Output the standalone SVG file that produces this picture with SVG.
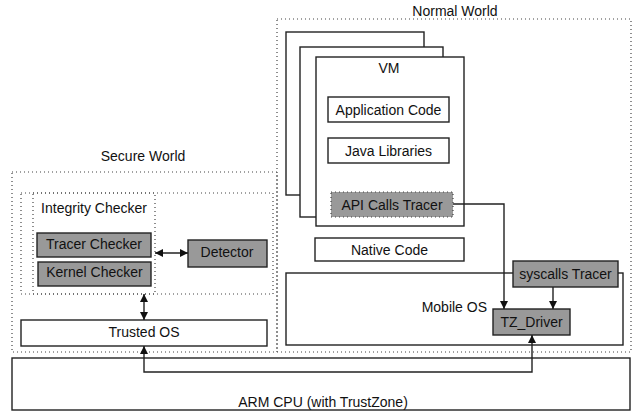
<svg xmlns="http://www.w3.org/2000/svg" width="639" height="415" viewBox="0 0 639 415">
<style>
text{font-family:"Liberation Sans",Arial,sans-serif;font-size:14px;fill:#111;text-anchor:middle;dominant-baseline:central}
.b{fill:#fff;stroke:#222;stroke-width:1.4}
.g{fill:#999;stroke:#222;stroke-width:1.4}
.d{fill:none;stroke:#444;stroke-width:1.2;stroke-dasharray:1 3}
.gd{fill:#999;stroke:#444;stroke-width:1.2;stroke-dasharray:1 3}
.c{fill:none;stroke:#222;stroke-width:1.4}
</style>
<defs>
<marker id="ah" viewBox="0 0 10 10" refX="10" refY="5" markerWidth="8" markerHeight="8" markerUnits="userSpaceOnUse" orient="auto-start-reverse"><path d="M0,0 L10,5 L0,10 z" fill="#111"/></marker>
</defs>
<rect x="0" y="0" width="639" height="415" fill="#fff"/>
<g id="arm-cpu"><rect class="b" x="12" y="358" width="618" height="52"/><text x="323" y="402">ARM CPU (with TrustZone)</text></g>
<g id="secure-world"><rect class="d" x="12" y="172" width="265" height="180"/><text x="143" y="156">Secure World</text></g>
<g id="normal-world"><rect class="d" x="277" y="19" width="354" height="333"/><text x="455" y="11">Normal World</text></g>
<g id="checker-area"><rect class="d" x="21" y="193" width="252" height="101"/></g>
<g id="integrity-checker"><rect class="d" x="33" y="193" width="122" height="101"/><text x="94" y="208">Integrity Checker</text></g>
<g id="tracer-checker"><rect class="g" x="37" y="233" width="114" height="24"/><text x="94" y="244">Tracer Checker</text></g>
<g id="kernel-checker"><rect class="g" x="38" y="262" width="113" height="24"/><text x="94.5" y="272">Kernel Checker</text></g>
<g id="detector"><rect class="g" x="188" y="240" width="79" height="27"/><text x="227" y="252">Detector</text></g>
<g id="trusted-os"><rect class="b" x="21" y="320" width="246" height="26"/><text x="144" y="332">Trusted OS</text></g>
<g id="vm-back2"><rect class="b" x="286" y="32" width="138" height="163"/></g>
<g id="vm-back1"><rect class="b" x="300" y="47" width="143" height="170"/></g>
<g id="vm"><rect class="b" x="316" y="57" width="148" height="169"/><text x="389" y="68">VM</text></g>
<g id="application-code"><rect class="b" x="328" y="97" width="121" height="25"/><text x="388.5" y="109.5">Application Code</text></g>
<g id="java-libraries"><rect class="b" x="328" y="138" width="121" height="25"/><text x="388.5" y="150.5">Java Libraries</text></g>
<g id="api-calls-tracer"><rect class="gd" x="331" y="192" width="122" height="25"/><text x="392" y="204.5">API Calls Tracer</text></g>
<g id="native-code"><rect class="b" x="315" y="238" width="149" height="23"/><text x="389.5" y="249.5">Native Code</text></g>
<g id="mobile-os"><rect class="b" x="286" y="273" width="337" height="72"/><text x="487" y="307" style="text-anchor:end">Mobile OS</text></g>
<g id="syscalls-tracer"><rect class="g" x="513" y="261" width="105" height="26"/><text x="565.5" y="274">syscalls Tracer</text></g>
<g id="tz-driver"><rect class="g" x="493" y="309" width="77" height="26"/><text x="531.5" y="322">TZ_Driver</text></g>
<g id="connectors">
<path class="c" d="M155,253 L188,253" marker-start="url(#ah)" marker-end="url(#ah)"/>
<path class="c" d="M144,294 L144,320" marker-start="url(#ah)" marker-end="url(#ah)"/>
<path class="c" d="M453,204 L504,204 L504,309" marker-end="url(#ah)"/>
<path class="c" d="M553,287 L553,309" marker-end="url(#ah)"/>
<path class="c" d="M144,346 L144,372 L532,372 L532,335" marker-start="url(#ah)" marker-end="url(#ah)"/>
</g>
</svg>
